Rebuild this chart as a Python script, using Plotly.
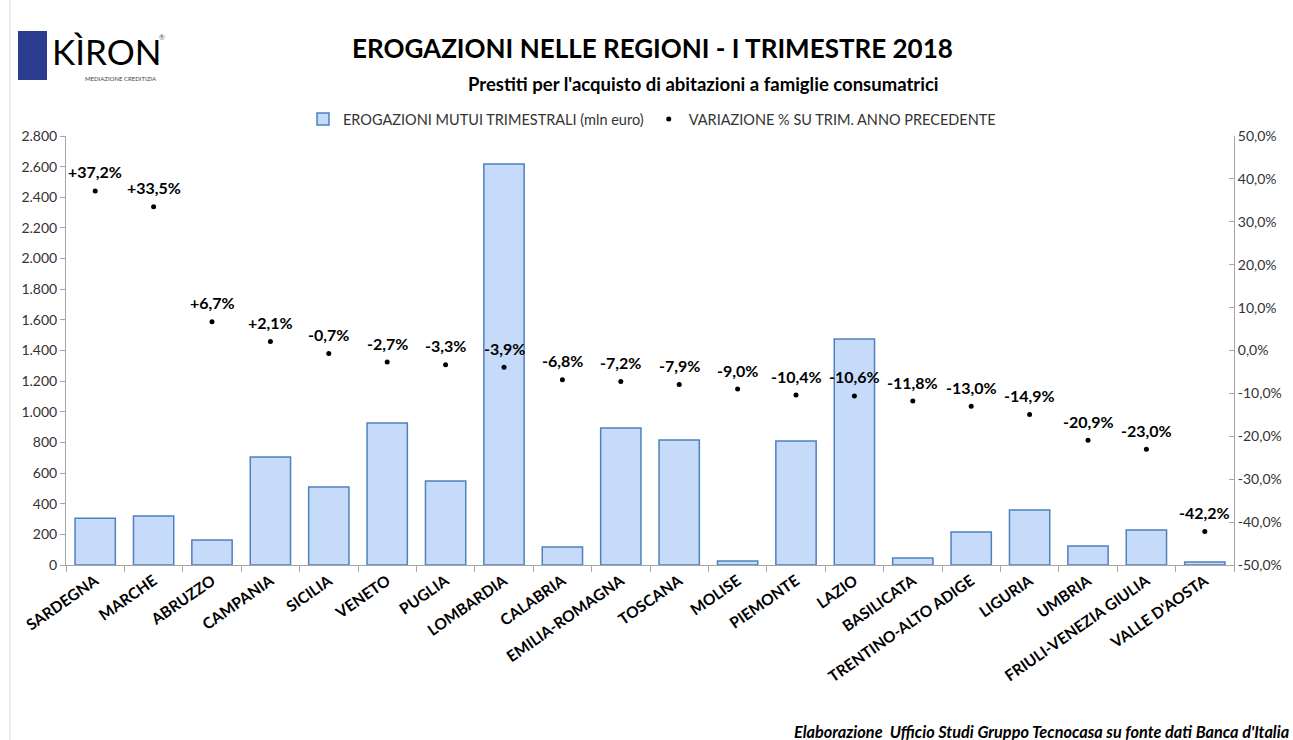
import plotly.graph_objects as go

regions = ["SARDEGNA", "MARCHE", "ABRUZZO", "CAMPANIA", "SICILIA", "VENETO", "PUGLIA",
           "LOMBARDIA", "CALABRIA", "EMILIA-ROMAGNA", "TOSCANA", "MOLISE", "PIEMONTE",
           "LAZIO", "BASILICATA", "TRENTINO-ALTO ADIGE", "LIGURIA", "UMBRIA",
           "FRIULI-VENEZIA GIULIA", "VALLE D'AOSTA"]
erogazioni = [305, 320, 163, 705, 509, 927, 548, 2617, 117, 894, 816, 26, 809,
              1475, 46, 215, 359, 124, 228, 20]
variazione = [37.2, 33.5, 6.7, 2.1, -0.7, -2.7, -3.3, -3.9, -6.8, -7.2, -7.9, -9.0,
              -10.4, -10.6, -11.8, -13.0, -14.9, -20.9, -23.0, -42.2]
left_ticks = list(range(0, 2801, 200))
right_ticks = list(range(-50, 51, 10))
right_labels = [("%.1f%%" % t).replace(".", ",") for t in right_ticks]

W, H = 1293, 740
L, R, T, B = 66, 1234, 136, 565

def px(x):
    return (x - L) / (R - L)

def py(y):
    return (B - y) / (B - T)

FONT = "Lato"

fig = go.Figure()
fig.add_trace(go.Bar(
    x=regions, y=erogazioni, name="EROGAZIONI MUTUI TRIMESTRALI (mln euro)",
    marker=dict(color="#c6dafa", line=dict(color="#4f81bd", width=1.5)),
    yaxis="y",
))
fig.add_trace(go.Scatter(
    x=regions, y=variazione, name="VARIAZIONE % SU TRIM. ANNO PRECEDENTE",
    mode="markers", marker=dict(color="black", size=5), yaxis="y2",
))

annotations = []
for r, v in zip(regions, variazione):
    annotations.append(dict(
        x=r, y=v, xref="x", yref="y2", yshift=19, showarrow=False,
        xanchor="center", yanchor="middle",
        text=("%+.1f%%" % v).replace(".", ","),
        font=dict(family=FONT, size=16, color="black", weight="bold"),
    ))

def note(x, y, text, size, color="black", weight="normal", xanchor="center"):
    return dict(x=px(x), y=py(y), xref="paper", yref="paper", showarrow=False,
                xanchor=xanchor, yanchor="middle", text=text,
                font=dict(family=FONT, size=size, color=color, weight=weight))

annotations += [
    note(652, 48, "EROGAZIONI NELLE REGIONI - I TRIMESTRE 2018", 26, weight="bold"),
    note(703, 84, "Prestiti per l'acquisto di abitazioni a famiglie consumatrici", 18.5,
         weight="bold"),
    note(1291, 731,
         "<i>Elaborazione  Ufficio Studi Gruppo Tecnocasa su fonte dati Banca d'Italia</i>",
         16.3, weight="bold", xanchor="right"),
    note(50, 51, "KÌRON", 35, color="black", xanchor="left"),
    note(162, 37, "®", 7, color="#555"),
    note(121, 79, "MEDIAZIONE CREDITIZIA", 6, color="#444"),
]

shapes = [
    dict(type="rect", xref="paper", yref="paper", x0=px(18), x1=px(47), y0=py(31), y1=py(80),
         fillcolor="#2b3c8f", line=dict(width=0)),
    dict(type="line", xref="paper", yref="paper", x0=px(10), x1=px(10), y0=py(0), y1=py(740),
         line=dict(color="#d9d9d9", width=1)),
]

fig.update_layout(
    width=W, height=H,
    margin=dict(l=L, r=W - R, t=T, b=H - B),
    paper_bgcolor="white", plot_bgcolor="white",
    separators=",.",
    font=dict(family=FONT, color="#333"),
    bargap=0.31,
    showlegend=True,
    legend=dict(orientation="h", x=px(652), xanchor="center", y=py(119), yanchor="middle",
                font=dict(family=FONT, size=14.5, color="#333"), itemwidth=30),
    xaxis=dict(
        type="category", range=[-0.5, len(regions) - 0.5],
        tickangle=-35, tickson="boundaries", ticks="outside",
        ticklen=6, tickcolor="#a6a6a6", showline=True, linecolor="#a6a6a6",
        tickfont=dict(family=FONT, size=15.5, color="black", weight="bold"),
        showgrid=False,
    ),
    yaxis=dict(
        range=[0, 2800], tickvals=left_ticks, tickformat=",d", ticks="outside",
        ticklen=5, tickcolor="#a6a6a6", showline=True, linecolor="#a6a6a6",
        showgrid=False, zeroline=False, tickfont=dict(family=FONT, size=14, color="#333"),
    ),
    yaxis2=dict(
        range=[-50, 50], tickvals=right_ticks, ticktext=right_labels,
        overlaying="y", side="right", ticks="inside", ticklen=5, tickcolor="#a6a6a6",
        showline=True, linecolor="#a6a6a6", showgrid=False, zeroline=False,
        tickfont=dict(family=FONT, size=14, color="#333"),
    ),
    annotations=annotations,
    shapes=shapes,
)

fig.write_html("out.html", config={"displayModeBar": False},
               post_script="document.body.style.margin='0';document.body.style.overflow='hidden';")
